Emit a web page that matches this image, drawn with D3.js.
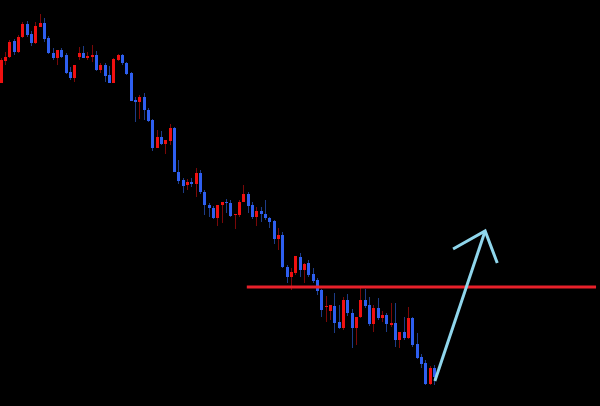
<!DOCTYPE html>
<html>
<head>
<meta charset="utf-8">
<script src="https://cdn.jsdelivr.net/npm/d3@7"></script>
<style>
html,body{margin:0;padding:0;background:#000;}
svg{display:block;}
</style>
</head>
<body>
<svg id="chart" width="600" height="406"></svg>
<script>
// Candle data (price units), index 0..100
const opens  = [323,345,349,365,354,369,382,372,363,379,383,368,353,348,356,351,334,328,349,353,348,349,351,336,341,331,323,346,351,343,333,306,304,309,296,286,258,269,262,265,278,234,226,221,224,222,233,214,201,198,188,201,204,203,191,191,204,212,201,189,195,192,188,185,167,171,139,129,133,149,136,143,132,126,116,99,95,100,84,78,106,93,78,89,106,101,82,98,88,91,81,83,66,74,68,88,62,49,43,22,38];
const highs  = [348,354,366,367,371,384,385,375,384,392,388,370,358,356,358,353,339,341,359,360,354,361,355,343,343,340,348,352,352,344,334,309,311,313,298,287,276,275,266,282,279,246,228,227,228,238,236,216,203,200,201,204,207,206,192,206,221,214,204,199,199,206,189,186,178,174,141,138,150,153,143,146,138,128,117,110,101,113,101,109,112,97,89,118,117,109,101,108,95,93,103,103,74,89,99,89,73,52,46,40,41];
const lows   = [323,341,348,351,353,368,369,360,362,379,364,352,346,341,348,332,326,324,346,348,346,344,335,333,324,323,323,345,341,331,305,284,287,286,284,255,258,261,252,261,234,222,213,216,219,209,212,191,189,187,180,183,193,189,177,189,204,193,187,180,184,186,178,162,156,138,123,116,131,129,123,129,123,111,89,84,86,73,77,76,90,58,61,88,98,80,74,86,84,74,79,59,58,66,67,59,47,38,21,21,21];
const closes = [346,349,364,354,369,382,371,363,380,383,367,353,348,356,349,333,328,341,353,348,350,351,336,341,330,323,347,351,343,332,305,304,309,296,285,258,269,262,266,278,234,225,220,224,222,233,214,201,198,188,201,204,203,190,192,204,212,200,189,195,192,188,184,167,171,139,129,134,150,136,142,131,125,115,96,100,101,83,78,106,93,78,89,106,100,82,98,88,91,82,83,66,74,68,88,61,48,42,22,38,29];

// Horizontal level line (price) and its index span
const levelPrice = [119];
const levelSpan = [56.8, 137.4];

// Arrow: [index, price] points
const arrowShaft = [[100.2, 25], [111.8, 175]];
const arrowHead  = [[104.4, 157], [111.8, 175], [114.6, 143]];

const W = 600, H = 406;
const svg = d3.select("#chart");
svg.append("rect").attr("width", W).attr("height", H).attr("fill", "#000");

const x = d3.scaleLinear().domain([0, 100]).range([0.7, 434.0]);
const y = d3.scaleLinear().domain([0, 406]).range([406, 0]);

const candles = opens.map((o, i) => ({i, o, h: highs[i], l: lows[i], c: closes[i]}));

const bullBody = "#f01010", bearBody = "#2e5ff0";
const bullWick = "#7a0808", bearWick = "#1d3c88";

const g = svg.append("g");
// wicks
g.selectAll("line.wick").data(candles).enter().append("line")
  .attr("class", "wick")
  .attr("x1", d => Math.round(x(d.i)) + 0.5)
  .attr("x2", d => Math.round(x(d.i)) + 0.5)
  .attr("y1", d => y(d.h))
  .attr("y2", d => y(d.l))
  .attr("stroke", d => d.c >= d.o ? bullWick : bearWick)
  .attr("stroke-width", 1);
// bodies
g.selectAll("rect.body").data(candles).enter().append("rect")
  .attr("class", "body")
  .attr("x", d => Math.round(x(d.i)) - 1)
  .attr("width", 3)
  .attr("y", d => y(Math.max(d.o, d.c)))
  .attr("height", d => Math.max(1, Math.abs(y(d.o) - y(d.c))))
  .attr("fill", d => d.c >= d.o ? bullBody : bearBody);

// level line
svg.append("line")
  .attr("x1", x(levelSpan[0])).attr("x2", x(levelSpan[1]))
  .attr("y1", y(levelPrice[0])).attr("y2", y(levelPrice[0]))
  .attr("stroke", "#e8202a").attr("stroke-width", 3);

// arrow
const line = d3.line().x(d => x(d[0])).y(d => y(d[1]));
svg.append("path").attr("d", line(arrowShaft))
  .attr("fill", "none").attr("stroke", "#8fd6ec").attr("stroke-width", 3).attr("stroke-linecap", "butt");
svg.append("path").attr("d", line(arrowHead))
  .attr("fill", "none").attr("stroke", "#8fd6ec").attr("stroke-width", 3)
  .attr("stroke-linejoin", "miter").attr("stroke-linecap", "butt");
</script>
</body>
</html>
